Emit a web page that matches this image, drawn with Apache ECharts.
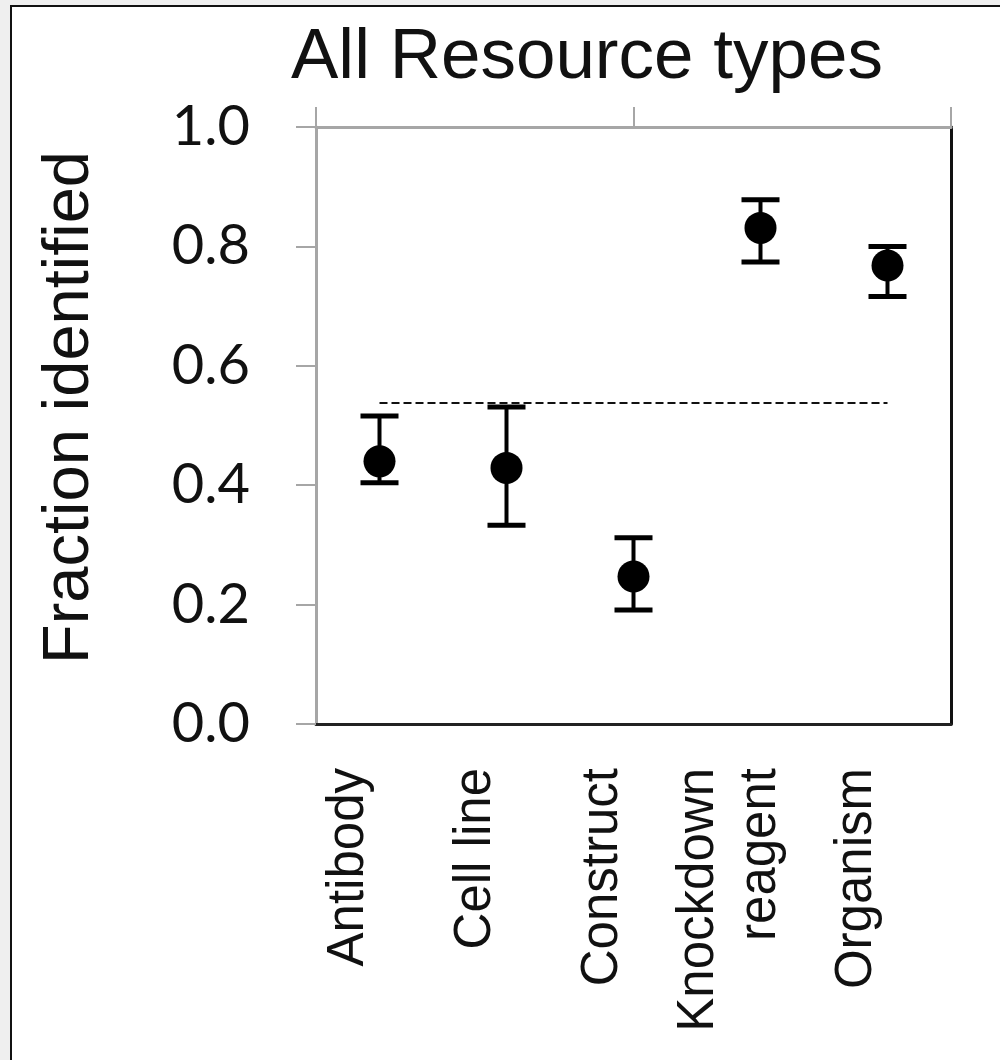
<!DOCTYPE html>
<html>
<head>
<meta charset="utf-8">
<script src="https://cdn.jsdelivr.net/npm/echarts@6/dist/echarts.min.js"></script>
<style>
  html, body { margin: 0; padding: 0; background: #efefef; }
  #chart { width: 1000px; height: 1060px; }
</style>
</head>
<body>
<div id="chart"></div>
<script>
const categories = ['Antibody', 'Cell line', 'Construct', 'Knockdown\nreagent', 'Organism'];
const meanValues = [0.440, 0.429, 0.247, 0.831, 0.768];
const lowerValues = [0.404, 0.333, 0.191, 0.774, 0.716];
const upperValues = [0.516, 0.531, 0.312, 0.878, 0.800];
const referenceLevel = 0.538;
const yTickMin = 0;
const yTickMax = 1;
const yTickStep = 0.2;
const topTickMin = 0;
const topTickMax = 2;
const topTickStep = 1;

const chart = echarts.init(document.getElementById('chart'), null, { renderer: 'canvas' });

const errorData = categories.map((c, i) => [i, lowerValues[i], upperValues[i]]);
const pointData = categories.map((c, i) => [i, meanValues[i]]);

const option = {
  backgroundColor: '#efefef',
  animation: false,
  graphic: {
    elements: [{
      type: 'rect',
      z: -10,
      silent: true,
      shape: { x: 11, y: 6, width: 1100, height: 1200 },
      style: { fill: '#ffffff', stroke: '#111111', lineWidth: 2 }
    }]
  },
  title: {
    text: 'All Resource types',
    left: 286,
    top: 18,
    textStyle: { fontFamily: 'Liberation Sans', fontSize: 71, fontWeight: 'normal', color: '#111' }
  },
  grid: { left: 316, right: 49, top: 127, bottom: 336, containLabel: false, outerBoundsMode: 'none' },
  xAxis: [
    {
      type: 'category',
      data: categories,
      position: 'bottom',
      boundaryGap: true,
      axisLine: { show: true, lineStyle: { color: '#222', width: 3 } },
      axisTick: { show: false },
      splitLine: { show: false },
      axisLabel: {
        interval: 0,
        rotate: 90,
        margin: 44,
        fontFamily: 'Liberation Sans',
        fontSize: 51,
        lineHeight: 62,
        color: '#111',
        hideOverlap: false,
        formatter: v => v + '\n'
      }
    },
    {
      type: 'value',
      position: 'top',
      min: topTickMin,
      max: topTickMax,
      interval: topTickStep,
      axisLine: { show: true, onZero: false, lineStyle: { color: '#a6a6a6', width: 3 } },
      axisTick: { show: true, length: 20, lineStyle: { color: '#a6a6a6', width: 2 } },
      axisLabel: { show: false },
      splitLine: { show: false }
    }
  ],
  yAxis: [
    {
      type: 'value',
      position: 'left',
      min: yTickMin,
      max: yTickMax,
      interval: yTickStep,
      name: 'Fraction identified',
      nameLocation: 'middle',
      nameGap: 213,
      nameTextStyle: { fontFamily: 'Liberation Sans', fontSize: 65, color: '#111', padding: [0, 0, 0, 36] },
      axisLine: { show: true, lineStyle: { color: '#a6a6a6', width: 3 } },
      axisTick: { show: true, length: 20, lineStyle: { color: '#a6a6a6', width: 2 } },
      splitLine: { show: false },
      axisLabel: {
        margin: 66,
        fontFamily: 'Lato',
        fontSize: 56,
        color: '#111',
        formatter: v => v.toFixed(1)
      }
    },
    {
      type: 'value',
      position: 'right',
      min: yTickMin,
      max: yTickMax,
      axisLine: { show: true, onZero: false, lineStyle: { color: '#111', width: 3 } },
      axisTick: { show: false },
      axisLabel: { show: false },
      splitLine: { show: false }
    }
  ],
  series: [
    {
      type: 'custom',
      xAxisIndex: 0,
      yAxisIndex: 0,
      data: errorData,
      z: 3,
      renderItem: function (params, api) {
        const x = api.value(0);
        const lo = api.coord([x, api.value(1)]);
        const hi = api.coord([x, api.value(2)]);
        const half = 19;
        return {
          type: 'group',
          children: [
            { type: 'line', shape: { x1: lo[0], y1: lo[1], x2: hi[0], y2: hi[1] }, style: { stroke: '#000', lineWidth: 4 } },
            { type: 'line', shape: { x1: lo[0] - half, y1: lo[1], x2: lo[0] + half, y2: lo[1] }, style: { stroke: '#000', lineWidth: 5 } },
            { type: 'line', shape: { x1: hi[0] - half, y1: hi[1], x2: hi[0] + half, y2: hi[1] }, style: { stroke: '#000', lineWidth: 5 } }
          ]
        };
      }
    },
    {
      type: 'scatter',
      xAxisIndex: 0,
      yAxisIndex: 0,
      data: pointData,
      symbol: 'circle',
      symbolSize: 32,
      z: 4,
      itemStyle: { color: '#000', opacity: 1 },
      markLine: {
        silent: true,
        symbol: ['none', 'none'],
        label: { show: false },
        lineStyle: { color: '#111', width: 2, type: [8, 4] },
        data: [[
          { coord: [categories[0], referenceLevel] },
          { coord: [categories[categories.length - 1], referenceLevel] }
        ]]
      }
    }
  ]
};

chart.setOption(option);
</script>
</body>
</html>
